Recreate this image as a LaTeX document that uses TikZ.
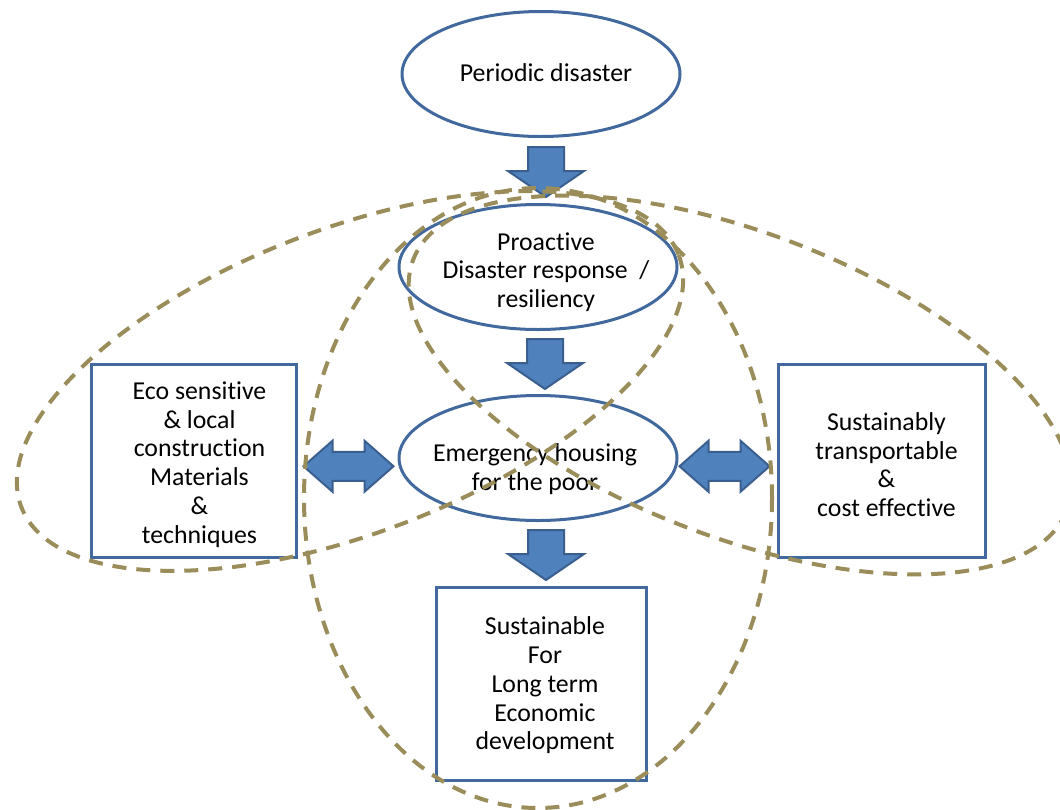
\documentclass[tikz,border=0pt]{standalone}
\usepackage{fontspec}
\setmainfont[Ligatures=NoCommon]{Carlito}
\usetikzlibrary{shapes.geometric,calc}
\definecolor{outl}{HTML}{41699E}
\definecolor{afill}{HTML}{4F81BD}
\definecolor{aline}{HTML}{3A5F8F}
\definecolor{dashcol}{HTML}{9A8D5A}
\begin{document}
\begin{tikzpicture}[x=1pt,y=-1pt,
  txt/.style={font=\fontsize{25.8}{28.7}\selectfont, align=center, text=black, inner sep=0pt},
  oval/.style={ellipse, draw=outl, line width=3pt, fill=white,
    minimum width=278pt, minimum height=125pt, inner sep=0pt},
  box/.style={rectangle, draw=outl, line width=3pt, fill=white, inner sep=0pt,
    minimum height=193pt},
  blockarrow/.style={fill=afill, draw=aline, line width=2pt, line join=miter},
  ring/.style={draw=dashcol, line width=4pt, dash pattern=on 14pt off 10pt},
  downarrow/.pic={\path[blockarrow] (-18,0) -- (18,0) -- (18,24) -- (38,24)
    -- (0,50) -- (-38,24) -- (-18,24) -- cycle;},
  twoway/.pic={\path[blockarrow] (-45,0) -- (-16,-25.5) -- (-16,-14.5)
    -- (16,-14.5) -- (16,-25.5) -- (45,0) -- (16,25.5) -- (16,14.5)
    -- (-16,14.5) -- (-16,25.5) -- cycle;}
]
\useasboundingbox (0,0) rectangle (1060,809);
\fill[white] (0,0) rectangle (1060,809);
\clip (0,0) rectangle (1060,809);

% main chain of ellipses
\node[oval] (disaster) at (541,74) {};
\node[oval] (proactive) at (538,267) {};
\node[oval] (housing) at (538,458) {};
\node[txt] at ($(disaster.center)+(5,-1)$) {Periodic disaster};
\node[txt] at ($(proactive.center)+(8,5)$) {Proactive\\Disaster response \ /\\resiliency};
\node[txt] at ($(housing.center)+(-3,11)$) {Emergency housing\\for the poor};

% side and bottom boxes
\node[box, minimum width=205pt] (eco) at (193.5,460.5) {};
\node[box, minimum width=207pt] (transport) at (881.5,460.5) {};
\node[box, minimum width=210pt] (longterm) at (541,683.5) {};
\node[txt] at ($(eco.center)+(6,4)$)
  {Eco sensitive\\\& local\\construction\\Materials\\\&\\techniques};
\node[txt] at ($(transport.center)+(5,4)$)
  {Sustainably\\transportable\\\&\\cost effective};
\node[txt] at ($(longterm.center)+(4,2)$)
  {Sustainable\\For\\Long term\\Economic\\development};

% block arrows between the shapes
\pic at ($(disaster.south)+(5,9)$) {downarrow};
\pic at ($(proactive.south)+(7,8)$) {downarrow};
\pic at ($(housing.south)+(8,8)$) {downarrow};
\pic at ($(eco.east)!0.5!(housing.west)+(1,7)$) {twoway};
\pic at ($(housing.east)!0.5!(transport.west)+(-3,7)$) {twoway};

% dashed groupings
\coordinate (cl) at (350,381);
\coordinate (cr) at (740,385);
\coordinate (cv) at (538,498);
\draw[ring, rotate around={21:(cl)}] (cl) ellipse [x radius=352, y radius=152];
\draw[ring, rotate around={-21:(cr)}] (cr) ellipse [x radius=350, y radius=152];
\draw[ring] (cv) ellipse [x radius=234, y radius=310];
\end{tikzpicture}
\end{document}
